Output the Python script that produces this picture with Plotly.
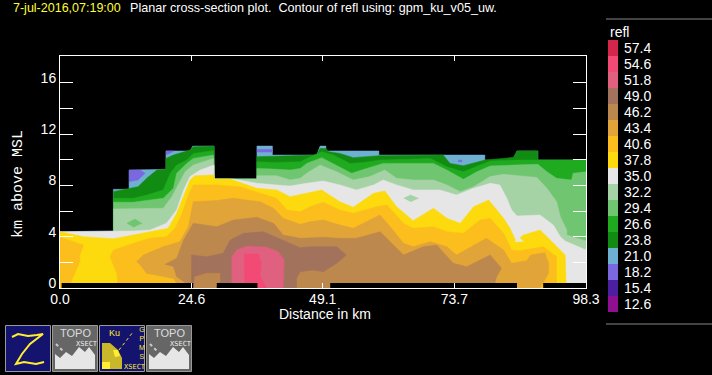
import plotly.graph_objects as go

W, H = 712, 375
LEVELS = ["57.4","54.6","51.8","49.0","46.2","43.4","40.6","37.8","35.0","32.2","29.4","26.6","23.8","21.0","18.2","15.4","12.6"]
COLORS = ["#D4264A","#F24A75","#E0607F","#A3725D","#BD884D","#E0A438","#FBBE1C","#FDDA0D","#E6E6E6","#A6D3A6","#70C670","#1FAA1F","#118B11","#6FB0D2","#7B68E0","#4B1FA0","#8E1090"]
C = dict(zip(LEVELS, COLORS))

env_x = [0,9.35,9.97,9.97,12.9,12.9,19.8,19.8,24.3,24.8,28.8,28.8,36.8,36.8,39.7,39.7,48.0,48.6,49.7,49.7,59.6,59.6,79.4,79.4,84.7,85.4,89.3,89.3,98.3,98.3,0]
env_y = [4.39,4.44,4.44,7.69,7.69,9.19,9.25,10.68,10.68,11.06,11.06,8.49,8.49,11.06,11.06,10.36,10.36,11.06,11.06,10.68,10.68,10.36,10.36,9.97,9.97,10.68,10.68,9.97,9.97,0,0]

p1_x = [12.9,15.0,15.9,14.6,12.9]
p1_y = [9.19,9.19,8.94,8.42,8.29]
p2_x = [19.8,21.3,20.2,19.8]
p2_y = [10.68,10.68,10.44,10.4]
p3_x = [36.8,39.7,39.7,36.8]
p3_y = [10.8,10.8,10.6,10.6]
p4_x = [74.4,75.1,75.1,74.4]
p4_y = [9.97,9.97,9.84,9.84]

b238_x = [9.97,12.1,14.6,16.2,18.1,19.8,19.8,21.2,23.1,24.3,24.9,28.8,28.8,36.8,36.8,44.9,48.0,48.6,49.7,50.2,52.3,54.8,57.3,59.6,71.6,72.9,75.4,77.9,79.4,84.7,85.4,89.3,89.3,98.3,98.3,9.97]
b238_y = [7.51,7.69,7.9,8.55,9.19,9.25,10.1,10.36,10.62,10.75,11.01,11.06,8.49,8.49,10.23,10.36,10.36,10.88,10.88,10.62,10.49,10.16,10.23,10.31,10.36,9.71,9.53,9.84,9.97,10.18,10.68,10.68,9.97,9.97,0,0]

b266_x = [9.97,13.7,16.2,19.3,20.6,21.8,23.7,24.9,28.7,28.8,36.8,36.8,39.9,43.0,44.9,46.1,48.9,51.1,54.2,56.7,59.8,64.8,69.2,72.3,75.4,78.5,80.4,84.7,98.3,98.3,9.97]
b266_y = [6.99,6.99,7.25,7.64,8.94,9.58,9.97,10.49,10.7,8.49,8.49,9.84,9.79,9.79,9.84,10.1,10.62,10.36,9.71,9.79,9.97,10.03,10.1,9.45,9.06,9.58,9.9,9.97,9.97,0,0]

b294_x = [9.97,13.7,16.8,19.3,21.2,21.8,23.7,24.9,28.7,28.8,36.8,36.8,39.9,43.0,44.9,46.1,48.9,51.7,54.5,57.3,60.4,64.8,69.8,72.3,75.4,77.9,80.4,84.7,89.3,91.0,92.8,95.6,95.9,98.3,98.3,9.97]
b294_y = [6.68,6.68,6.86,6.99,7.77,8.94,9.71,10.1,10.36,8.49,8.49,9.32,9.27,9.19,9.32,9.71,10.16,9.58,8.94,9.32,9.71,9.71,9.71,9.19,8.47,9.06,9.51,9.58,9.64,9.06,8.55,8.42,8.94,9.06,0,0]

b322_x = [9.97,16.2,19.3,20.9,22.1,23.4,24.9,28.7,28.8,36.8,36.8,40.5,43.0,44.9,46.1,48.6,51.7,54.8,57.9,60.7,62.9,66.0,69.8,72.3,74.8,77.3,80.4,82.9,89.1,91.0,92.8,93.5,94.7,94.7,98.3,98.3,9.97]
b322_y = [6.16,6.16,6.21,7.12,8.03,9.06,9.58,10.1,8.49,8.49,8.75,8.75,8.42,8.55,8.94,9.58,9.06,8.42,8.68,9.19,8.55,8.42,8.42,8.03,7.51,7.9,8.68,8.86,8.62,7.77,6.73,5.56,4.52,4.13,3.66,0,0]
blob_l_x = [12.5,14.0,15.3,13.7]
blob_l_y = [5.04,5.38,5.04,4.73]

b350_x = [0,9.35,13.7,16.8,19.9,21.8,23.1,24.3,26.2,28.8,28.8,32.4,34.3,36.8,40.5,43.0,46.1,49.2,52.3,55.4,58.6,60.4,62.9,66.0,71.0,74.1,77.3,80.4,82.2,83.5,84.4,85.4,89.7,92.2,93.5,94.4,98.3,98.3,0]
b350_y = [4.39,4.44,4.44,4.52,5.04,6.08,7.64,8.68,9.19,9.58,8.49,8.49,8.36,8.16,8.03,7.95,8.16,8.34,8.03,7.64,8.03,8.42,8.03,7.64,7.64,7.25,7.77,8.16,8.03,6.99,6.08,5.61,5.69,4.91,4.0,3.66,2.96,0,0]
blob_p_x = [64.2,65.5,67.0,65.5]
blob_p_y = [6.99,7.25,6.99,6.73]

b378_x = [0,4.4,10.0,13.7,17.4,20.2,21.8,23.1,24.3,25.2,28.8,28.8,31.8,36.8,40.5,43.0,46.1,48.9,52.3,54.8,58.6,60.7,62.9,66.0,69.8,72.3,74.8,77.3,80.1,82.9,84.1,85.2,86.6,89.7,91.0,94.4,94.6,0]
b378_y = [4.39,4.0,3.84,4.13,4.44,4.65,5.82,7.25,8.42,8.75,8.81,8.49,8.49,7.77,7.64,7.12,7.38,7.64,6.73,6.29,7.38,7.56,6.34,5.25,6.21,5.43,5.04,6.34,6.86,5.43,4.65,3.66,4.13,4.52,4.0,2.57,0,0]
blob_w_x = [85.0,85.7,86.6]
blob_w_y = [3.61,4.0,3.61]

b406a_x = [0,4.4,3.7,3.7,2.5,1.6,0]
b406a_y = [3.95,3.35,2.57,2.05,0.88,0,0]
b406b_x = [10.9,10.6,9.35,10.0,13.7,16.8,19.9,21.5,22.7,24.0,24.9,29.3,33.6,37.4,40.5,42.4,44.9,46.7,49.2,52.3,54.8,59.2,61.1,64.2,66.0,69.8,72.3,75.4,78.5,80.4,82.9,84.4,86.0,90.3,92.8,92.8]
b406b_y = [0,1.14,2.44,2.96,3.48,3.87,4.0,4.65,5.69,7.25,8.03,8.03,7.9,7.38,6.99,6.08,5.95,6.34,6.68,6.08,5.82,6.34,6.47,5.04,4.65,4.78,4.39,4.26,5.3,5.43,4.26,2.96,2.91,3.22,2.44,0]
b406c_x = [85.4,85.5,86.1,86.1]
b406c_y = [0,0.7,0.49,0]

b434_x = [14.3,15.6,19.3,22.4,24.0,24.9,29.3,32.4,37.4,39.9,41.7,44.9,46.7,49.2,52.3,54.8,59.8,61.7,64.2,66.0,69.2,72.3,74.1,77.3,79.7,82.9,84.4,87.2,88.0,90.6,91.3,91.3,89.7,22.4,21.2,16.2,15.0]
b434_y = [2.05,2.57,3.22,3.61,4.78,6.73,6.81,6.99,6.73,6.21,5.43,4.96,5.17,5.3,4.91,4.65,5.69,4.78,3.48,3.22,3.61,3.22,2.57,3.35,3.87,2.96,1.92,2.13,2.57,2.75,1.92,1.14,0,0,0.75,1.14,1.79]

b462_x = [19.6,21.8,23.1,24.9,29.3,32.4,36.8,39.9,41.7,44.9,49.2,52.3,55.4,59.8,61.7,64.2,67.9,70.4,73.5,76.0,78.5,80.4,82.5,81.6,81.0,24.9,21.8,21.2]
b462_y = [1.84,2.31,3.74,5.04,4.78,5.3,5.51,5.04,4.13,3.87,3.95,3.87,3.87,4.39,3.61,2.57,3.22,3.35,1.92,1.66,2.18,2.57,1.53,0.88,0,0,0.88,1.66]

b490_x = [24.6,24.6,27.4,30.5,31.8,34.3,38.0,41.7,44.9,46.7,51.7,53.5,51.7,49.2,47.3,44.9,44.2,44.2]
b490_y = [0,2.57,2.44,2.7,3.74,4.26,4.39,3.74,3.14,3.22,3.22,2.57,1.92,1.27,1.4,1.27,0.75,0]
blob_t_x = [24.9,25.2,27.4,29.9,29.9,29.0]
blob_t_y = [0,0.88,1.14,1.14,0.49,0]

b518_x = [32.1,32.1,33.0,34.9,38.6,40.8,41.9,41.7]
b518_y = [0,2.44,2.96,3.27,3.17,2.83,2.18,0]
b546_x = [34.6,34.4,37.1,37.6,37.4,38.6]
b546_y = [0,2.65,2.65,1.92,0.88,0]

# echo-free strip along the ground
gap_start = [0.3,29.3,50.5,90.3]
gap_end = [24.9,36.9,85.4,98.3]
gap_top = 0.39

layers = [
    (env_x,env_y,C["21.0"]),(p1_x,p1_y,C["18.2"]),(p2_x,p2_y,C["18.2"]),(p3_x,p3_y,C["18.2"]),(p4_x,p4_y,C["18.2"]),
    (b238_x,b238_y,C["23.8"]),(b266_x,b266_y,C["26.6"]),(b294_x,b294_y,C["29.4"]),(b322_x,b322_y,C["32.2"]),
    (blob_l_x,blob_l_y,C["29.4"]),(b350_x,b350_y,C["35.0"]),(blob_p_x,blob_p_y,C["32.2"]),
    (b378_x,b378_y,C["37.8"]),(blob_w_x,blob_w_y,C["35.0"]),
    (b406a_x,b406a_y,C["40.6"]),(b406b_x,b406b_y,C["40.6"]),(b406c_x,b406c_y,C["40.6"]),
    (b434_x,b434_y,C["43.4"]),(b462_x,b462_y,C["46.2"]),(b490_x,b490_y,C["49.0"]),(blob_t_x,blob_t_y,C["46.2"]),
    (b518_x,b518_y,C["51.8"]),(b546_x,b546_y,C["54.6"]),
]

fig = go.Figure()
for xs, ys, col in layers:
    fig.add_trace(go.Scatter(x=xs, y=ys, mode="lines", fill="toself", fillcolor=col, line=dict(width=0.5, color=col), hoverinfo="skip", showlegend=False))
for a, b in zip(gap_start, gap_end):
    fig.add_trace(go.Scatter(x=[a,b,b,a], y=[0,0,gap_top,gap_top], mode="lines", fill="toself", fillcolor="black", line=dict(width=0), hoverinfo="skip", showlegend=False))

fig.add_trace(go.Bar(y=LEVELS, x=[1]*len(LEVELS), orientation="h", width=1, marker=dict(color=COLORS, line=dict(width=0)), xaxis="x2", yaxis="y2", hoverinfo="skip", showlegend=False))

def px(x): return x / W
def py(y): return 1 - y / H

ytick = [0,2,4,6,8,10,12,14,16]
ytxt = ["0","","4","","8","","12","","16"]
xtick = [0,24.6,49.1,73.7,98.3]
xtxt = ["0.0","24.6","49.1","73.7","98.3"]
f = "Liberation Sans"

shapes = []
def rect(x0,y0,x1,y1,fill,line):
    shapes.append(dict(type="rect",xref="paper",yref="paper",x0=px(x0),x1=px(x1),y0=py(y0),y1=py(y1),fillcolor=fill,line=dict(color=line,width=1)))
def path(pts,fill=None,line=None,width=1,close=True,dash=None):
    d = "M " + " L ".join(f"{px(a):.5f},{py(b):.5f}" for a,b in pts) + (" Z" if close else "")
    shapes.append(dict(type="path",xref="paper",yref="paper",path=d,fillcolor=fill or "rgba(0,0,0,0)",line=dict(color=line or "rgba(0,0,0,0)",width=width,dash=dash or "solid")))

shapes.append(dict(type="line",xref="paper",yref="paper",x0=px(606),x1=1,y0=py(19),y1=py(19),line=dict(color="#888",width=1)))
shapes.append(dict(type="line",xref="paper",yref="paper",x0=px(606),x1=1,y0=py(324),y1=py(324),line=dict(color="#888",width=1)))

rect(5.5,325.5,50.5,371.5,"#14146E","#999")
path([(12,337),(18,334),(28,336),(37,335),(43,334),(30,344),(22,354),(16,364),(24,362),(36,364),(44,362)],line="#FFEE30",width=2,close=False)
for x0 in (52,146):
    rect(x0+.5,325.5,x0+45.5,371.5,"#666","#999")
    path([(x0+3,369),(x0+3,354),(x0+8,358),(x0+14,352),(x0+20,356),(x0+27,347),(x0+33,352),(x0+37,347),(x0+43,355),(x0+43,369)],fill="#E6E6E6")
    path([(x0+4,344),(x0+12,352)],line="#CCC",width=2,close=False,dash="dot")
rect(99.5,325.5,144.5,371.5,"#14146E","#999")
path([(102,369),(102,343),(110,343),(118,350),(122,358),(122,369)],fill="#C9B92A")
path([(102,369),(102,362),(110,362),(110,369)],fill="#FFEE30")
path([(113,350),(118,350),(120,356),(115,357)],fill="#FFEE30")
path([(119,350),(133,332)],line="#FFEE30",width=1,close=False,dash="dot")

ann = [
    dict(x=px(11),y=py(7.5),text="7-jul-2016,07:19:00",font=dict(color="#FFFF33",size=12.5,family=f)),
    dict(x=px(128),y=py(7.5),text="Planar cross-section plot.  Contour of refl using: gpm_ku_v05_uw.",font=dict(color="white",size=12.6,family=f)),
    dict(x=px(608),y=py(32),text="refl",font=dict(color="white",size=14,family=f)),
    dict(x=px(277),y=py(314),text="Distance in km",font=dict(color="white",size=14,family=f)),
    dict(x=px(19),y=py(184),text="km above MSL",textangle=-90,xanchor="center",font=dict(color="white",size=15,family="Liberation Mono")),
    dict(x=px(58),y=py(333),text="TOPO",font=dict(color="#DDD",size=11,family=f)),
    dict(x=px(152),y=py(333),text="TOPO",font=dict(color="#DDD",size=11,family=f)),
    dict(x=px(74),y=py(344),text="XSECT",font=dict(color="#EEE",size=7,family="DejaVu Sans Mono")),
    dict(x=px(168),y=py(344),text="XSECT",font=dict(color="#EEE",size=7,family="DejaVu Sans Mono")),
    dict(x=px(122),y=py(366.5),text="XSECT",font=dict(color="#FFEE30",size=7,family="DejaVu Sans Mono")),
    dict(x=px(107),y=py(333),text="Ku",font=dict(color="#FFEE30",size=9,family=f)),
    dict(x=px(137),y=py(343),text="G<br>P<br>M<br>S",font=dict(color="#FFEE30",size=7,family=f)),
]
for a in ann:
    a.update(xref="paper",yref="paper",showarrow=False,xanchor=a.get("xanchor","left"),yanchor="middle")

axis_line = dict(showline=True, linecolor="white", linewidth=1, ticks="inside", tickcolor="white", showgrid=False, zeroline=False, mirror="ticks", automargin=False, tickfont=dict(color="white",size=14,family=f))

fig.update_layout(
    width=W, height=H, autosize=False, margin=dict(l=0,r=0,t=0,b=0,pad=0),
    paper_bgcolor="black", plot_bgcolor="black", bargap=0, showlegend=False,
    shapes=shapes, annotations=ann,
    xaxis=dict(domain=[px(60),px(586)], range=[0,98.3], tickmode="array", tickvals=xtick, ticktext=xtxt, ticklen=5, ticklabelstandoff=-2, **axis_line),
    yaxis=dict(domain=[py(288),py(56)], range=[0,18.08], tickmode="array", tickvals=ytick, ticktext=ytxt, ticklen=13, ticklabelshift=-5, **axis_line),
    xaxis2=dict(domain=[px(608),px(618)], range=[0,1], anchor="y2", visible=False, automargin=False),
    yaxis2=dict(domain=[py(312),py(40)], anchor="x2", side="right", type="category", categoryorder="array", categoryarray=LEVELS[::-1],
                tickmode="array", tickvals=LEVELS, ticktext=LEVELS, automargin=False,
                showgrid=False, zeroline=False, showline=False, ticks="", tickfont=dict(color="white",size=14,family=f), ticklabelstandoff=5),
)
fig.write_html("out.html", config=dict(displayModeBar=False), post_script="document.body.style.margin='0';document.body.style.background='black';")
